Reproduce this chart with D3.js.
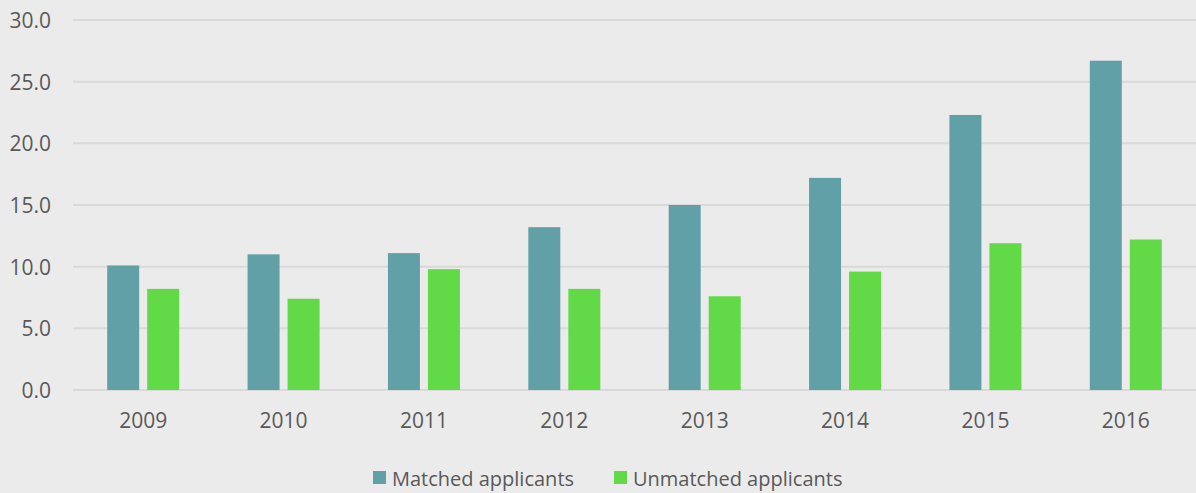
<!DOCTYPE html>
<html lang="en">
<head>
<meta charset="UTF-8">
<title>Matched vs unmatched applicants</title>
<style>
    body { margin: 0; padding: 0; background: #ebebeb; }
    svg { display: block; font-family: "Open Sans", sans-serif; }
    .tick text { fill: #595959; font-size: 21px; font-family: "Open Sans", sans-serif; }
    .grid line { stroke: #d9d9d9; stroke-width: 2px; }
</style>
</head>
<body>
<div id="chart"></div>
<script src="https://d3js.org/d3.v7.min.js"></script>
<script>
    // data
    const years = ["2009", "2010", "2011", "2012", "2013", "2014", "2015", "2016"];
    const matched = [10.1, 11.0, 11.1, 13.2, 15.0, 17.2, 22.3, 26.7];
    const unmatched = [8.2, 7.4, 9.8, 8.2, 7.6, 9.6, 11.9, 12.2];
    const seriesNames = ["Matched applicants", "Unmatched applicants"];
    const colors = ["#62a0a8", "#62d946"];
    const yTicks = [0, 5, 10, 15, 20, 25, 30];

    const W = 1196, H = 493;
    const margin = { top: 20, right: 0, bottom: 103, left: 73 };

    const svg = d3.select("#chart").append("svg")
        .attr("width", W).attr("height", H);

    svg.append("rect").attr("width", W).attr("height", H).attr("fill", "#ebebeb");

    const x = d3.scaleBand().domain(years).range([margin.left, W - margin.right]);
    const y = d3.scaleLinear().domain([0, 30]).range([H - margin.bottom, margin.top]);

    // gridlines
    svg.append("g").attr("class", "grid")
        .selectAll("line").data(yTicks).enter().append("line")
        .attr("x1", margin.left).attr("x2", W)
        .attr("y1", d => y(d)).attr("y2", d => y(d));

    // y axis labels
    const yAxis = svg.append("g")
        .attr("transform", "translate(" + (margin.left - 22) + ",0)")
        .call(d3.axisLeft(y).tickValues(yTicks).tickFormat(d3.format(".1f")).tickSize(0));
    yAxis.select(".domain").remove();
    yAxis.selectAll("text").attr("x", 0).attr("dy", "0.36em");

    // x axis labels
    const xAxis = svg.append("g")
        .attr("transform", "translate(0," + (H - margin.bottom) + ")")
        .call(d3.axisBottom(x).tickSize(0));
    xAxis.select(".domain").remove();
    xAxis.selectAll("text").attr("y", 23);

    const barW = 32, gap = 8;
    const series = [matched, unmatched];
    series.forEach((vals, i) => {
        svg.append("g").selectAll("rect").data(vals).enter().append("rect")
            .attr("x", (d, j) => x(years[j]) + x.bandwidth() / 2 - barW - gap / 2 + i * (barW + gap))
            .attr("y", d => y(d))
            .attr("width", barW)
            .attr("height", d => y(0) - y(d))
            .attr("fill", colors[i]);
    });

    // legend
    const legendX = [373, 614];
    const legend = svg.append("g");
    seriesNames.forEach((name, i) => {
        legend.append("rect")
            .attr("x", legendX[i]).attr("y", 471)
            .attr("width", 13).attr("height", 13)
            .attr("fill", colors[i]);
        legend.append("text")
            .attr("x", legendX[i] + 19).attr("y", 486)
            .attr("fill", "#595959").style("font-size", "20px")
            .text(name);
    });
</script>
</body>
</html>
